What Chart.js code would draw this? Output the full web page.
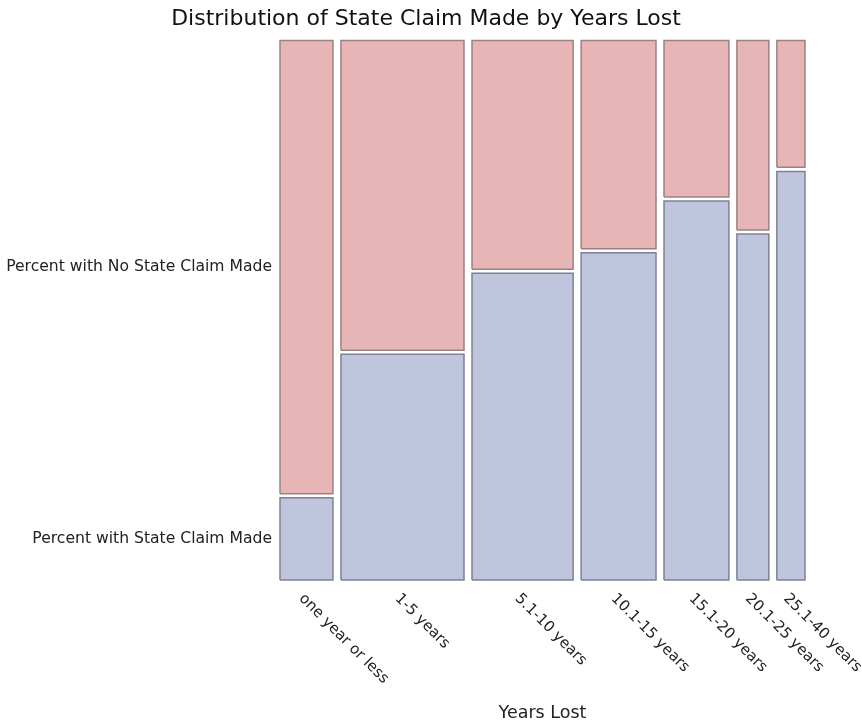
<!DOCTYPE html>
<html>
<head>
<meta charset="utf-8">
<script src="https://cdn.jsdelivr.net/npm/chart.js@4/dist/chart.umd.min.js"></script>
<style>
  html, body { margin: 0; padding: 0; background: #fff; }
  #wrap { width: 862px; height: 725px; }
</style>
</head>
<body>
<div id="wrap"><canvas id="mosaic"></canvas></div>
<script>
const yearsLost = ["one year or less", "1-5 years", "5.1-10 years", "10.1-15 years", "15.1-20 years", "20.1-25 years", "25.1-40 years"];
const shareOfCases = [11.1, 25.8, 21.2, 15.7, 13.6, 6.7, 5.9];    // column widths (% of all cases)
const pctClaimMade = [15.6, 42.2, 57.2, 61.0, 70.6, 64.5, 76.1];  // % with a state claim, per column
const claimLabels = ["Percent with State Claim Made", "Percent with No State Claim Made"];

const FONT = "'DejaVu Sans', Verdana, sans-serif";
const xGap = 1.68;   // space between columns, in share units
const yGap = 0.75;   // space between the two tiles of a column, in percent

const claimFill = "#c0c5de", claimLine = "#7d8196";
const noClaimFill = "#e8b5b6", noClaimLine = "#9a8283";

// column start positions along x
const colStart = [];
let run = 0;
shareOfCases.forEach((w, i) => { colStart.push(run); run += w + xGap; });
const xMax = run - xGap;

function rect(x0, x1, y0, y1) {
    return [{x: x0, y: y0}, {x: x0, y: y1}, {x: x1, y: y1}, {x: x1, y: y0}, {x: x0, y: y0}];
}

const datasets = [];
yearsLost.forEach((lab, i) => {
    const x0 = colStart[i], x1 = x0 + shareOfCases[i];
    const p = pctClaimMade[i];
    datasets.push({
        label: lab + " - " + claimLabels[0],
        data: rect(x0, x1, 0, p - yGap / 2),
        backgroundColor: claimFill, borderColor: claimLine
    });
    datasets.push({
        label: lab + " - " + claimLabels[1],
        data: rect(x0, x1, p + yGap / 2, 100),
        backgroundColor: noClaimFill, borderColor: noClaimLine
    });
});
datasets.forEach(d => Object.assign(d, {
    showLine: true, fill: "shape", borderWidth: 1.5, pointRadius: 0, tension: 0, clip: false
}));

// y ticks sit in the middle of the first column's tiles
const yTickValues = [(pctClaimMade[0] - yGap / 2) / 2, (pctClaimMade[0] + yGap / 2 + 100) / 2];

// x labels are drawn rotated clockwise, reading downwards
const slantLabels = {
    id: "slantLabels",
    afterDraw(chart) {
        const ctx = chart.ctx, xs = chart.scales.x, area = chart.chartArea;
        ctx.save();
        ctx.font = "15px " + FONT;
        ctx.fillStyle = "#222";
        ctx.textAlign = "left";
        ctx.textBaseline = "top";
        yearsLost.forEach((lab, i) => {
            const mid = xs.getPixelForValue(colStart[i] + shareOfCases[i] / 2);
            ctx.save();
            ctx.translate(mid, area.bottom + 11);
            ctx.rotate(Math.PI / 4);
            ctx.fillText(lab, 0, 0);
            ctx.restore();
        });
        ctx.restore();
    }
};

new Chart(document.getElementById("mosaic"), {
    type: "scatter",
    data: { datasets: datasets },
    plugins: [slantLabels],
    options: {
        responsive: true,
        maintainAspectRatio: false,
        animation: false,
        layout: { padding: { left: 0, right: 10, top: 0, bottom: 0 } },
        plugins: {
            legend: { display: false },
            tooltip: { enabled: false },
            title: {
                display: true,
                text: "Distribution of State Claim Made by Years Lost",
                color: "#111",
                font: { family: FONT, size: 22, weight: "normal" },
                padding: { top: 6, bottom: 8 }
            }
        },
        scales: {
            x: {
                type: "linear", min: 0, max: xMax,
                grid: { display: false },
                border: { display: false },
                ticks: { display: false },
                title: {
                    display: true, text: "Years Lost", color: "#222",
                    font: { family: FONT, size: 17.5 }, padding: { top: 0, bottom: 1 }
                },
                afterFit(s) { s.height = 145; }
            },
            y: {
                type: "linear", min: 0, max: 100,
                grid: { display: false, drawTicks: false },
                border: { display: false },
                afterBuildTicks(s) { s.ticks = yTickValues.map(v => ({value: v})); },
                ticks: {
                    color: "#222", padding: 8,
                    font: { family: FONT, size: 15.6 },
                    callback: (v, i) => claimLabels[i]
                },
                afterFit(s) { s.width = 280; }
            },
            // empty right-hand strip so the plot ends where the reference's does
            yRight: {
                type: "linear", position: "right", min: 0, max: 100,
                grid: { display: false, drawTicks: false },
                border: { display: false },
                ticks: { display: false },
                afterFit(s) { s.width = 47; }
            }
        }
    }
});
</script>
</body>
</html>
